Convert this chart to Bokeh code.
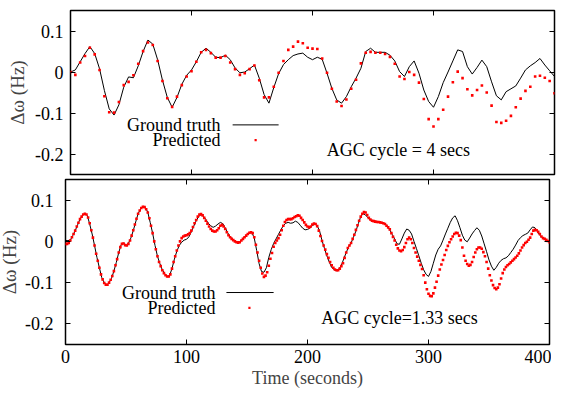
from bokeh.plotting import figure
from bokeh.layouts import column
from bokeh.models import LinearAxis, FixedTicker, Label, Arrow, BoxAnnotation, Range1d
from bokeh.embed import file_html
from bokeh.resources import INLINE

# ---------------- data ----------------
X_TICKS = [0, 100, 200, 300, 400]
Y_TICKS = [-0.2, -0.1, 0, 0.1]
Y_TICK_LABELS = {-0.2: "-0.2", -0.1: "-0.1", 0: "0", 0.1: "0.1"}
X_TICK_LABELS = {0: "0", 100: "100", 200: "200", 300: "300", 400: "400"}

# Panel 1: AGC cycle = 4 s (one sample every 4 s)
t_top = [4 * k for k in range(101)]
truth_top = [
    0.000, 0.005, 0.025, 0.045, 0.062, 0.045, 0.008, -0.045, -0.090, -0.105,
    -0.080, -0.037, -0.012, -0.014, 0.015, 0.050, 0.078, 0.068, 0.030, -0.020,
    -0.062, -0.086, -0.062, -0.030, -0.008, 0.005, 0.025, 0.048, 0.058, 0.048,
    0.036, 0.035, 0.041, 0.030, 0.010, -0.002, 0.000, 0.008, 0.017, -0.015,
    -0.055, -0.076, -0.038, -0.004, 0.018, 0.030, 0.040, 0.044, 0.046, 0.036,
    0.030, 0.036, 0.031, -0.003, -0.040, -0.068, -0.076, -0.060, -0.036, -0.015,
    0.009, 0.050, 0.058, 0.048, 0.048, 0.048, 0.041, 0.027, 0.001, -0.011,
    0.013, 0.027, -0.003, -0.044, -0.072, -0.086, -0.060, -0.026, 0.000, 0.027,
    0.054, 0.050, 0.013, -0.005, 0.011, 0.029, 0.013, -0.024, -0.058, -0.068,
    -0.048, -0.041, -0.034, -0.015, 0.005, 0.015, 0.023, 0.033, 0.017, 0.003,
    -0.011]
pred_top = [
    0.000, -0.007, 0.023, 0.039, 0.059, 0.043, 0.005, -0.059, -0.098, -0.099,
    -0.073, -0.032, -0.024, -0.008, 0.020, 0.051, 0.072, 0.066, 0.027, -0.022,
    -0.064, -0.085, -0.060, -0.032, -0.011, 0.002, 0.025, 0.048, 0.054, 0.046,
    0.035, 0.035, 0.039, 0.023, 0.007, -0.007, -0.003, 0.007, 0.016, -0.020,
    -0.062, -0.062, -0.036, -0.002, 0.027, 0.054, 0.062, 0.074, 0.070, 0.059,
    0.057, 0.056, 0.033, -0.002, -0.041, -0.072, -0.083, -0.067, -0.041, -0.019,
    0.021, 0.047, 0.049, 0.047, 0.047, 0.044, 0.037, 0.020, -0.011, -0.017,
    0.000, -0.007, -0.026, -0.066, -0.115, -0.133, -0.115, -0.092, -0.060, -0.025,
    0.001, -0.015, -0.042, -0.057, -0.044, -0.033, -0.050, -0.082, -0.122, -0.124,
    -0.119, -0.107, -0.086, -0.065, -0.046, -0.036, -0.011, -0.009, -0.014, -0.022,
    -0.052]

# Panel 2: AGC cycle = 1.33 s
t_truth_bot = [2 * k for k in range(201)]
truth_bot = [
    0.002, 0.002, 0.003, 0.014, 0.026, 0.040, 0.054, 0.063, 0.068, 0.063,
    0.042, 0.018, -0.010, -0.039, -0.064, -0.088, -0.100, -0.106, -0.100, -0.090,
    -0.072, -0.051, -0.027, -0.008, -0.004, -0.010, -0.005, 0.008, 0.026, 0.047,
    0.067, 0.078, 0.085, 0.082, 0.071, 0.046, 0.020, -0.010, -0.036, -0.054,
    -0.069, -0.078, -0.085, -0.083, -0.066, -0.043, -0.024, -0.010, -0.002, 0.003,
    0.005, 0.011, 0.023, 0.037, 0.050, 0.060, 0.065, 0.061, 0.053, 0.044,
    0.038, 0.034, 0.037, 0.042, 0.046, 0.043, 0.033, 0.021, 0.012, 0.005,
    0.001, -0.001, -0.001, 0.005, 0.011, 0.016, 0.020, 0.022, 0.008, -0.022,
    -0.054, -0.073, -0.075, -0.064, -0.039, -0.020, -0.005, 0.006, 0.017, 0.028,
    0.038, 0.044, 0.046, 0.044, 0.045, 0.049, 0.046, 0.039, 0.032, 0.028,
    0.029, 0.032, 0.038, 0.042, 0.038, 0.025, 0.002, -0.017, -0.035, -0.050,
    -0.063, -0.069, -0.071, -0.067, -0.058, -0.042, -0.027, -0.013, -0.004, 0.010,
    0.025, 0.043, 0.060, 0.067, 0.064, 0.057, 0.052, 0.050, 0.049, 0.048,
    0.047, 0.045, 0.043, 0.037, 0.028, 0.017, 0.006, -0.006, -0.007, 0.006,
    0.020, 0.030, 0.027, 0.018, 0.000, -0.017, -0.035, -0.053, -0.069, -0.080,
    -0.085, -0.073, -0.053, -0.033, -0.019, -0.011, 0.003, 0.018, 0.032, 0.046,
    0.057, 0.062, 0.050, 0.033, 0.015, 0.003, -0.001, 0.008, 0.018, 0.026,
    0.033, 0.027, 0.013, -0.006, -0.025, -0.045, -0.060, -0.070, -0.063, -0.053,
    -0.046, -0.042, -0.040, -0.035, -0.027, -0.019, -0.009, 0.002, 0.009, 0.014,
    0.017, 0.020, 0.028, 0.035, 0.033, 0.024, 0.015, 0.009, 0.005, 0.002,
    -0.001]
t_pred_bot = [k * 4.0 / 3.0 for k in range(301)]
pred_bot = [
    -0.006, -0.006, -0.004, 0.002, 0.010, 0.018, 0.026, 0.036, 0.045, 0.054,
    0.060, 0.065, 0.067, 0.065, 0.058, 0.044, 0.027, 0.009, -0.010, -0.030,
    -0.047, -0.064, -0.080, -0.092, -0.101, -0.105, -0.105, -0.100, -0.093, -0.084,
    -0.072, -0.058, -0.043, -0.027, -0.014, -0.006, -0.005, -0.009, -0.010, -0.006,
    0.002, 0.014, 0.027, 0.041, 0.055, 0.067, 0.075, 0.081, 0.084, 0.083,
    0.078, 0.070, 0.056, 0.038, 0.020, 0.000, -0.019, -0.036, -0.050, -0.060,
    -0.070, -0.077, -0.082, -0.085, -0.085, -0.080, -0.066, -0.050, -0.036, -0.022,
    -0.010, 0.000, 0.008, 0.012, 0.014, 0.015, 0.017, 0.020, 0.026, 0.035,
    0.044, 0.052, 0.060, 0.065, 0.066, 0.063, 0.057, 0.050, 0.043, 0.036,
    0.030, 0.026, 0.024, 0.024, 0.027, 0.032, 0.038, 0.040, 0.036, 0.030,
    0.022, 0.015, 0.010, 0.006, 0.003, 0.000, -0.002, -0.003, -0.002, 0.002,
    0.006, 0.010, 0.014, 0.018, 0.021, 0.022, 0.020, 0.010, -0.008, -0.027,
    -0.047, -0.064, -0.078, -0.086, -0.083, -0.075, -0.059, -0.042, -0.028, -0.013,
    -0.004, 0.002, 0.008, 0.016, 0.027, 0.038, 0.047, 0.052, 0.054, 0.054,
    0.054, 0.056, 0.059, 0.061, 0.063, 0.062, 0.057, 0.052, 0.046, 0.040,
    0.036, 0.034, 0.036, 0.041, 0.043, 0.042, 0.037, 0.026, 0.013, 0.001,
    -0.010, -0.020, -0.031, -0.040, -0.050, -0.058, -0.064, -0.068, -0.070, -0.070,
    -0.066, -0.060, -0.053, -0.040, -0.027, -0.016, -0.010, -0.004, 0.006, 0.016,
    0.028, 0.039, 0.050, 0.060, 0.067, 0.071, 0.070, 0.064, 0.057, 0.053,
    0.050, 0.049, 0.048, 0.047, 0.047, 0.046, 0.045, 0.044, 0.042, 0.038,
    0.034, 0.029, 0.020, 0.011, 0.002, -0.008, -0.017, -0.022, -0.024, -0.021,
    -0.014, -0.004, 0.005, 0.009, 0.005, -0.004, -0.016, -0.027, -0.037, -0.047,
    -0.057, -0.067, -0.082, -0.100, -0.116, -0.127, -0.132, -0.133, -0.126, -0.112,
    -0.098, -0.083, -0.068, -0.056, -0.045, -0.033, -0.021, -0.011, -0.002, 0.005,
    0.012, 0.018, 0.021, 0.020, 0.014, 0.003, -0.015, -0.035, -0.047, -0.055,
    -0.059, -0.057, -0.050, -0.038, -0.027, -0.019, -0.015, -0.015, -0.018, -0.026,
    -0.036, -0.050, -0.066, -0.082, -0.095, -0.106, -0.113, -0.116, -0.112, -0.104,
    -0.090, -0.077, -0.068, -0.062, -0.058, -0.055, -0.051, -0.047, -0.043, -0.039,
    -0.035, -0.029, -0.022, -0.015, -0.009, -0.004, -0.001, 0.004, 0.009, 0.018,
    0.026, 0.028, 0.027, 0.023, 0.018, 0.012, 0.008, 0.006, 0.004, 0.001,
    -0.002]

LEGEND_TEXTS = ["Ground truth", "Predicted"]
NOTES = ["AGC cycle = 4 secs", "AGC cycle=1.33 secs"]
Y_LABEL = "\u0394\u03c9 (Hz)"
X_LABEL = "Time (seconds)"

FONT = "Liberation Serif"
X_RANGE = (0, 400)
Y_RANGE = (-0.25, 0.15)
TICK_FS = "18px"
LABEL_FS = "18px"


def style_axis(ax, ticks, overrides, show_labels, standoff):
    ax.ticker = FixedTicker(ticks=ticks)
    ax.axis_line_color = None
    ax.major_tick_in = 5
    ax.major_tick_out = 0
    ax.major_tick_line_color = "black"
    ax.major_tick_line_width = 1
    ax.minor_tick_line_color = None
    if show_labels:
        ax.major_label_overrides = overrides
        ax.major_label_text_font = FONT
        ax.major_label_text_font_size = TICK_FS
        ax.major_label_text_color = "black"
        ax.major_label_standoff = standoff
    else:
        ax.major_label_text_color = None
        ax.major_label_text_font_size = "0px"
        ax.major_label_standoff = 0


def make_panel(fh, bl, bt, bb, ylab_standoff, ytick_standoff, show_x):
    p = figure(frame_width=484, frame_height=fh,
               x_range=Range1d(*X_RANGE), y_range=Range1d(*Y_RANGE),
               output_backend="svg", toolbar_location=None,
               min_border_left=bl, min_border_right=2,
               min_border_top=bt, min_border_bottom=bb,
               x_axis_location=None, y_axis_location=None)
    p.grid.visible = False
    p.outline_line_color = "black"
    p.outline_line_width = 1.5
    p.background_fill_color = "white"
    p.border_fill_color = "white"

    xb = LinearAxis()
    style_axis(xb, X_TICKS, X_TICK_LABELS, show_x, 5)
    if show_x:
        xb.axis_label = X_LABEL
        xb.axis_label_text_font = FONT
        xb.axis_label_text_font_size = LABEL_FS
        xb.axis_label_text_font_style = "normal"
        xb.axis_label_standoff = 2
    p.add_layout(xb, "below")
    xa = LinearAxis()
    style_axis(xa, X_TICKS, X_TICK_LABELS, False, 0)
    p.add_layout(xa, "above")

    yl = LinearAxis()
    style_axis(yl, Y_TICKS, Y_TICK_LABELS, True, ytick_standoff)
    yl.axis_label = Y_LABEL
    yl.axis_label_text_font = FONT
    yl.axis_label_text_font_size = "19px"
    yl.axis_label_text_font_style = "normal"
    yl.axis_label_standoff = ylab_standoff
    p.add_layout(yl, "left")
    yr = LinearAxis()
    style_axis(yr, Y_TICKS, Y_TICK_LABELS, False, 0)
    p.add_layout(yr, "right")
    return p


def add_legend(p, tx, ly0, ly1, seg0, seg1, dotx):
    for txt, yy in zip(LEGEND_TEXTS, [ly0, ly1]):
        p.add_layout(Label(x=tx, y=yy, text=txt, text_font=FONT,
                           text_font_size="18px", text_align="right",
                           text_baseline="middle", text_color="black"))
    p.add_layout(Arrow(end=None, x_start=seg0, y_start=ly0, x_end=seg1,
                       y_end=ly0, line_color="black", line_width=1))
    p.add_layout(BoxAnnotation(left=dotx - 0.9, right=dotx + 0.9,
                               bottom=ly1 - 0.0028, top=ly1 + 0.0028,
                               fill_color="red", fill_alpha=1.0,
                               line_color=None))


# ---------------- top panel ----------------
p1 = make_panel(164, 70, 10, 2, 4, 7, False)
p1.line(t_top, truth_top, line_color="black", line_width=1)
p1.scatter(t_top, pred_top, marker="square", size=2.6,
           fill_color="red", line_color=None)
add_legend(p1, 124, -0.129, -0.166, 134, 172, 153)
p1.add_layout(Label(x=271, y=-0.190, text=NOTES[0], text_font=FONT,
                    text_font_size="18px", text_align="center",
                    text_baseline="middle", text_color="black"))

# ---------------- bottom panel (frames are aligned by the column, shift left by 5px) ----------------
p2 = make_panel(165, 70, 3, 0, 2, 12, True)
p2.margin = (0, 0, 0, -5)
p2.line(t_truth_bot, truth_bot, line_color="black", line_width=1)
p2.scatter(t_pred_bot, pred_bot, marker="square", size=2.6,
           fill_color="red", line_color=None)
add_legend(p2, 124, -0.124, -0.161, 133, 172, 152)
p2.add_layout(Label(x=276, y=-0.185, text=NOTES[1], text_font=FONT,
                    text_font_size="18px", text_align="center",
                    text_baseline="middle", text_color="black"))

layout = column(p1, p2, spacing=0)
open("out.html", "w").write(file_html(layout, INLINE))
